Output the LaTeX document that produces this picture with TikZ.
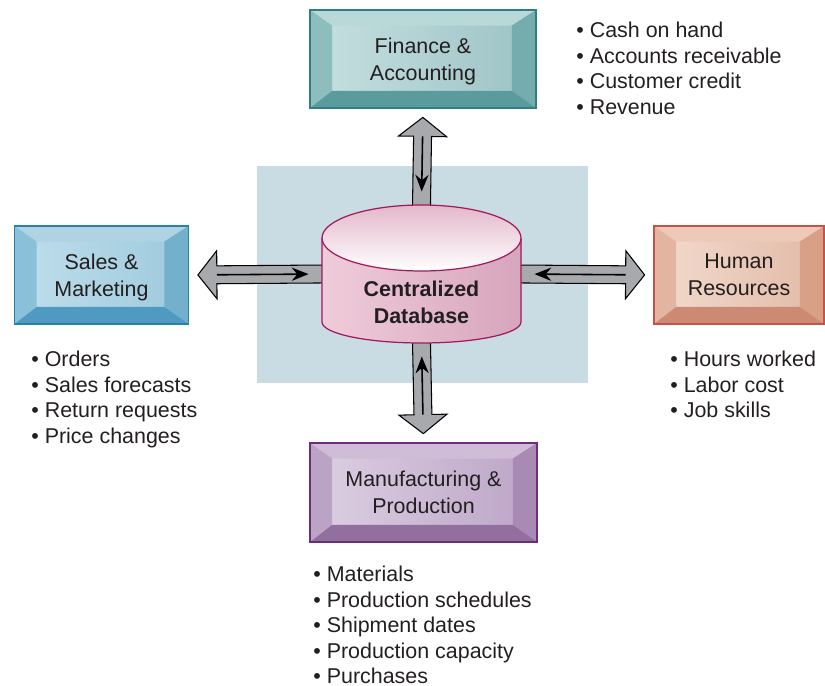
\documentclass[tikz,border=0pt]{standalone}
\usepackage{fontspec}
\setmainfont{Liberation Sans}
\usepackage{tikz}
\usetikzlibrary{positioning, calc, arrows.meta}

% colours
\definecolor{textgray}{HTML}{231F20}
\definecolor{bgblue}{HTML}{C9DBE3}
\definecolor{arrowgray}{HTML}{A7A9AC}
\definecolor{dbborder}{HTML}{A3195B}
\definecolor{dbleft}{HTML}{EFCCDA}
\definecolor{dbright}{HTML}{D7A5BC}
\definecolor{dbtop}{HTML}{E3B7CA}
% finance
\definecolor{finB}{HTML}{2F7F80}\definecolor{finT}{HTML}{B9D8D8}\definecolor{finL}{HTML}{8DBDBD}
\definecolor{finR}{HTML}{75ACAD}\definecolor{finD}{HTML}{5A9B9D}
\definecolor{finF}{HTML}{C7E0E1}\definecolor{finG}{HTML}{9CC3C5}
% sales
\definecolor{salB}{HTML}{2A80AD}\definecolor{salT}{HTML}{AFD3E3}\definecolor{salL}{HTML}{8AC0D8}
\definecolor{salR}{HTML}{73B0CC}\definecolor{salD}{HTML}{4E9AC0}
\definecolor{salF}{HTML}{C0DEEB}\definecolor{salG}{HTML}{9DCADD}
% human resources
\definecolor{hrB}{HTML}{C8514B}\definecolor{hrT}{HTML}{EEC9B8}\definecolor{hrL}{HTML}{E3B49F}
\definecolor{hrR}{HTML}{D9A088}\definecolor{hrD}{HTML}{CC8A73}
\definecolor{hrF}{HTML}{F2DBCF}\definecolor{hrG}{HTML}{E2B9A6}
% manufacturing
\definecolor{mfgB}{HTML}{6E2C7C}\definecolor{mfgT}{HTML}{CFBCD6}\definecolor{mfgL}{HTML}{BBA3C5}
\definecolor{mfgR}{HTML}{A88AB4}\definecolor{mfgD}{HTML}{916F9F}
\definecolor{mfgF}{HTML}{DDD0E2}\definecolor{mfgG}{HTML}{BCA4C7}

\newcommand{\figfont}{\fontsize{12.2pt}{15.3pt}\selectfont}
\newcommand{\listfont}{\fontsize{12.2pt}{14.45pt}\selectfont}

\tikzset{
  bevelbox/.style n args={7}{draw=#1, line width=0.7pt, left color=#6, right color=#7,
    inner sep=0pt, align=center, text depth=0pt,
    path picture={
      \fill[#2] (path picture bounding box.north west) -- (path picture bounding box.north east)
        -- ([shift={(-0.48cm,-0.31cm)}]path picture bounding box.north east)
        -- ([shift={(0.44cm,-0.31cm)}]path picture bounding box.north west) -- cycle;
      \fill[#3] (path picture bounding box.north west)
        -- ([shift={(0.44cm,-0.31cm)}]path picture bounding box.north west)
        -- ([shift={(0.44cm,0.34cm)}]path picture bounding box.south west)
        -- (path picture bounding box.south west) -- cycle;
      \fill[#4] (path picture bounding box.north east) -- (path picture bounding box.south east)
        -- ([shift={(-0.48cm,0.34cm)}]path picture bounding box.south east)
        -- ([shift={(-0.48cm,-0.31cm)}]path picture bounding box.north east) -- cycle;
      \fill[#5] (path picture bounding box.south west) -- (path picture bounding box.south east)
        -- ([shift={(-0.48cm,0.34cm)}]path picture bounding box.south east)
        -- ([shift={(0.44cm,0.34cm)}]path picture bounding box.south west) -- cycle;
    }},
  bigshaft/.style={fill=arrowgray, draw=black, line width=0.6pt, line join=miter},
  flowline/.style={line width=0.9pt, -{Stealth[length=9.5pt,width=7.5pt]}},
  bulletlist/.style={align=left, inner sep=0pt, anchor=north west, font=\listfont}
}

% fat two-way arrow from #1 (database side) to #2 (department side)
\newcommand{\bigarrow}[2]{%
  \draw[bigshaft] let \p1=(#1), \p2=(#2), \n1={atan2(\y2-\y1,\x2-\x1)},
      \n2={veclen(\x2-\x1,\y2-\y1)} in [shift={(\p1)}, rotate=\n1]
    (-20pt,-5.1pt) -- (\n2*1pt-10.8pt,-5.1pt) -- (\n2*1pt-10.8pt,-13.7pt) -- (\n2*1pt,0pt)
    -- (\n2*1pt-10.8pt,13.7pt) -- (\n2*1pt-10.8pt,5.1pt) -- (-20pt,5.1pt) -- cycle;
  \draw[flowline] let \p1=(#1), \p2=(#2), \n1={atan2(\y2-\y1,\x2-\x1)},
      \n2={veclen(\x2-\x1,\y2-\y1)} in [shift={(\p1)}, rotate=\n1]
    (\n2*1pt-10.8pt,0pt) -- (7.5pt,0pt);
}

\begin{document}
\begin{tikzpicture}[x=0.02cm, y=-0.02cm, font=\figfont, every node/.style={text=textgray}]
    \useasboundingbox (0,0) rectangle (825,686);

    % Background panel
    \fill[bgblue] (257,166) rectangle (588,383);

    % Department boxes
    \node[bevelbox={finB}{finT}{finL}{finR}{finD}{finF}{finG},
      minimum width=4.52cm, minimum height=1.96cm] (fin) at (423,59) {Finance \&\\Accounting};
    \node[bevelbox={salB}{salT}{salL}{salR}{salD}{salF}{salG},
      minimum width=3.48cm, minimum height=1.96cm] (sales) at (101.5,275) {Sales \&\\Marketing};
    \node[bevelbox={hrB}{hrT}{hrL}{hrR}{hrD}{hrF}{hrG},
      minimum width=3.4cm, minimum height=1.96cm] (hr) at (739,275) {Human\\Resources};
    \node[bevelbox={mfgB}{mfgT}{mfgL}{mfgR}{mfgD}{mfgF}{mfgG},
      minimum width=4.54cm, minimum height=1.98cm] (mfg) at (423.5,492.5) {Manufacturing \&\\Production};

    % Database extent
    \node[minimum width=3.98cm, minimum height=2.76cm, inner sep=0pt] (db) at (421.5,274) {};

    % Two-way arrows
    \bigarrow{db.north}{$(fin.south)!5pt!(db.north)$}
    \bigarrow{db.west}{$(sales.east)!5pt!(db.west)$}
    \bigarrow{db.east}{$(hr.west)!5pt!(db.east)$}
    \bigarrow{db.south}{$(mfg.north)!5pt!(db.south)$}

    % Cylinder
    \fill[left color=dbleft, right color=dbright] (322,238) -- (322,322)
      arc[start angle=180, end angle=360, x radius=1.99cm, y radius=0.42cm] -- (521,238) -- cycle;
    \draw[dbborder, line width=0.7pt] (322,238) -- (322,322)
      arc[start angle=180, end angle=360, x radius=1.99cm, y radius=0.42cm] -- (521,238);
    \draw[dbborder, line width=0.7pt, top color=dbtop, bottom color=white] (421.5,238)
      ellipse [x radius=1.99cm, y radius=0.66cm];
    \node[font=\figfont\bfseries, align=center] (dbtext) at (421.5,302) {Centralized\\Database};

    % Data lists
    \node[bulletlist] (finlist) at (576,22) {\textbullet\ Cash on hand\\\textbullet\ Accounts receivable\\
      \textbullet\ Customer credit\\\textbullet\ Revenue};
    \node[bulletlist] (saleslist) at (31,351) {\textbullet\ Orders\\\textbullet\ Sales forecasts\\
      \textbullet\ Return requests\\\textbullet\ Price changes};
    \node[bulletlist] (hrlist) at (670,351) {\textbullet\ Hours worked\\\textbullet\ Labor cost\\
      \textbullet\ Job skills};
    \node[bulletlist] (mfglist) at (313,566) {\textbullet\ Materials\\\textbullet\ Production schedules\\
      \textbullet\ Shipment dates\\\textbullet\ Production capacity\\\textbullet\ Purchases};
\end{tikzpicture}
\end{document}
